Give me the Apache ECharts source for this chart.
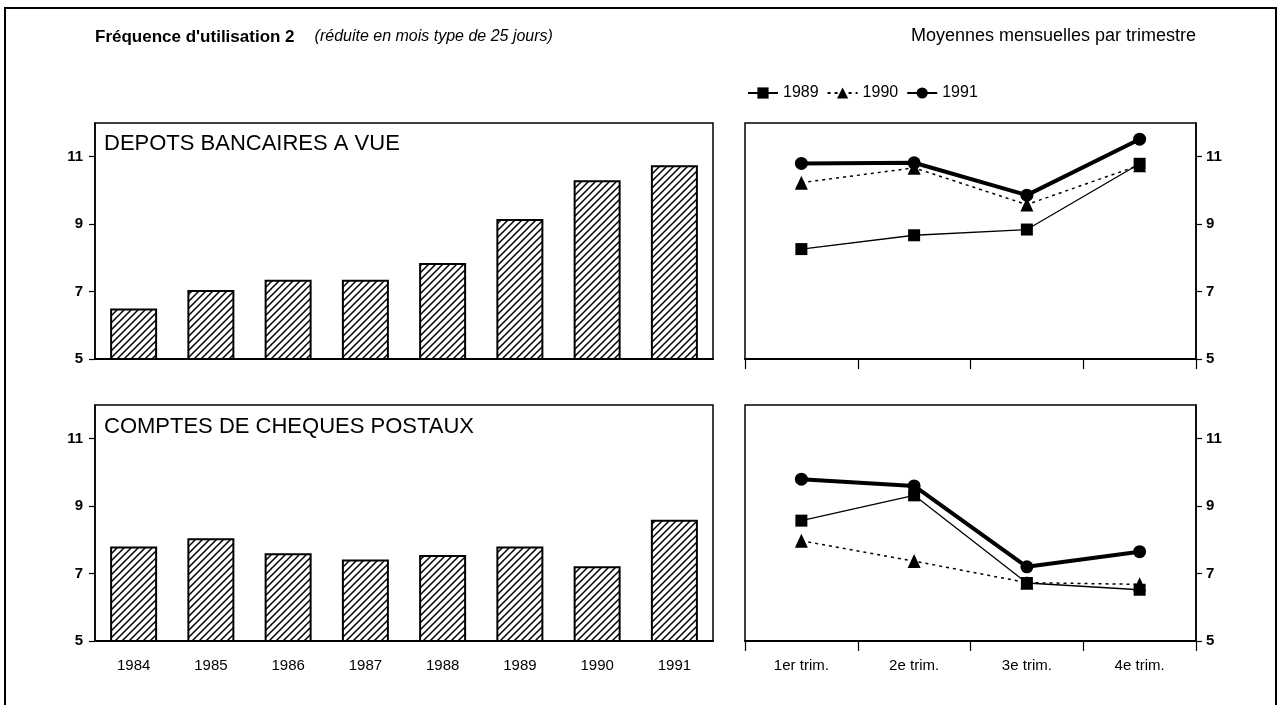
<!DOCTYPE html>
<html><head><meta charset="utf-8">
<script src="https://cdn.jsdelivr.net/npm/echarts@6/dist/echarts.min.js"></script>
<style>html,body{margin:0;padding:0;background:#fff}#c{width:1281px;height:705px}</style>
</head><body><div id="c"></div><script>
const years = ['1984','1985','1986','1987','1988','1989','1990','1991'];
const depots = [6.5, 7.05, 7.35, 7.35, 7.85, 9.15, 10.3, 10.75];
const cheques = [7.8, 8.05, 7.6, 7.42, 7.55, 7.8, 7.22, 8.6];
const quarters = ['1er trim.','2e trim.','3e trim.','4e trim.'];
const dep1989 = [8.26, 8.67, 8.84, 10.79];
const dep1990 = [10.23, 10.67, 9.58, 10.75];
const dep1991 = [10.8, 10.82, 9.86, 11.52];
const ccp1989 = [8.57, 9.32, 6.72, 6.52];
const ccp1990 = [7.97, 7.37, 6.73, 6.68];
const ccp1991 = [9.8, 9.6, 7.2, 7.65];
const yTicks = [5, 7, 9, 11];

const FONT = "'Liberation Sans', Arial, Helvetica, sans-serif";

function hatch(){
  const s = 7;
  const c = document.createElement('canvas');
  c.width = s; c.height = s;
  const g = c.getContext('2d');
  g.fillStyle = '#fff'; g.fillRect(0,0,s,s);
  g.strokeStyle = '#000'; g.lineWidth = 1.5;
  g.beginPath();
  g.moveTo(0,s); g.lineTo(s,0);
  g.moveTo(-1,1); g.lineTo(1,-1);
  g.moveTo(s-1,s+1); g.lineTo(s+1,s-1);
  g.stroke();
  return c;
}
const pattern = {image: hatch(), repeat: 'repeat'};

const grids = [
  {left:95, top:123, width:618, height:236},
  {left:95, top:405, width:618, height:236},
  {left:745, top:123, width:451, height:236},
  {left:745, top:405, width:451, height:236}
].map(g => Object.assign(g, {show:true, borderColor:'#000', borderWidth:1.5, containLabel:false}));

function xCat(i, data, showLabel, ticks){
  return {
    gridIndex:i, type:'category', data:data, boundaryGap:true,
    axisLine:{show:true, lineStyle:{color:'#000', width:2}},
    axisTick:{show:ticks, length:10, inside:false, lineStyle:{color:'#000', width:1.2}},
    axisLabel:{show:showLabel, color:'#000', fontSize:15, fontFamily:FONT, margin:17},
    splitLine:{show:false}
  };
}
function yVal(i, pos){
  return {
    gridIndex:i, type:'value', min:5, max:12, interval:1, position:pos,
    axisLine:{show:true, lineStyle:{color:'#000', width:1.5}},
    axisTick:{show:true, length:6, inside:false, customValues:yTicks, lineStyle:{color:'#000', width:1.2}},
    axisLabel:{show:true, customValues:yTicks, color:'#000', fontSize:15, fontWeight:'bold', fontFamily:FONT, margin: pos==='left'?12:10},
    splitLine:{show:false}
  };
}

function barSeries(i, data){
  return {type:'bar', xAxisIndex:i, yAxisIndex:i, data:data, barWidth:47,
    itemStyle:{color:pattern, borderColor:'#000', borderWidth:2}, silent:true};
}
function lineSeries(i, name, data){
  const st = {
    '1989': {symbol:'rect', symbolSize:12, lineStyle:{color:'#000', width:1.3, type:'solid'}},
    '1990': {symbol:'triangle', symbolSize:[13,14], lineStyle:{color:'#000', width:1.5, type:[3,4]}},
    '1991': {symbol:'circle', symbolSize:13, lineStyle:{color:'#000', width:4, type:'solid'}}
  }[name];
  return Object.assign({type:'line', name:name, xAxisIndex:i, yAxisIndex:i, data:data,
    itemStyle:{color:'#000', borderColor:'#000', borderWidth:0}, showSymbol:true}, st);
}

const chart = echarts.init(document.getElementById('c'));
chart.setOption({
  animation:false,
  backgroundColor:'#fff',
  textStyle:{fontFamily:FONT, color:'#000'},
  title:[
    {text:"{b|Fréquence d'utilisation 2}{g|}{i|(réduite en mois type de 25 jours)}", left:95, top:28, padding:0,
     textStyle:{fontWeight:'normal', rich:{
       b:{fontWeight:'bold', fontSize:17, fontFamily:FONT, color:'#000'},
       g:{width:20},
       i:{fontStyle:'italic', fontWeight:'normal', fontSize:16, fontFamily:FONT, color:'#000'}}}},
    {text:'Moyennes mensuelles par trimestre', right:85, top:27, padding:0,
     textStyle:{fontSize:18, fontWeight:'normal', fontFamily:FONT, color:'#000'}},
    {text:'DEPOTS BANCAIRES A VUE', left:104, top:133, padding:0,
     textStyle:{fontSize:22, fontWeight:'normal', fontFamily:FONT, color:'#000'}},
    {text:'COMPTES DE CHEQUES POSTAUX', left:104, top:416, padding:0,
     textStyle:{fontSize:22, fontWeight:'normal', fontFamily:FONT, color:'#000'}}
  ],
  legend:{data:['1989','1990','1991'], left:742, top:80, itemWidth:30, itemHeight:14, itemGap:8,
    textStyle:{fontSize:16, color:'#000', fontFamily:FONT}, selectedMode:false},
  grid:grids,
  xAxis:[xCat(0, years, false, false), xCat(1, years, true, false), xCat(2, quarters, false, true), xCat(3, quarters, true, true)],
  yAxis:[yVal(0,'left'), yVal(1,'left'), yVal(2,'right'), yVal(3,'right')],
  series:[
    barSeries(0, depots), barSeries(1, cheques),
    lineSeries(2,'1989',dep1989), lineSeries(2,'1990',dep1990), lineSeries(2,'1991',dep1991),
    lineSeries(3,'1989',ccp1989), lineSeries(3,'1990',ccp1990), lineSeries(3,'1991',ccp1991)
  ],
  graphic:[{type:'rect', silent:true, shape:{x:5, y:8, width:1271, height:730},
    style:{fill:'none', stroke:'#000', lineWidth:2}}]
});
</script></body></html>
